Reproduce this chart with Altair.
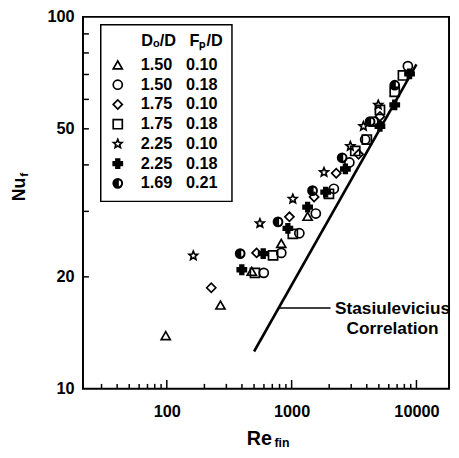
import altair as alt
import pandas as pd

NB = "\u00a0"
FONT = "Liberation Sans"

# ---- legend table ----
do_vals = ["1.50", "1.50", "1.75", "1.75", "2.25", "2.25", "1.69"]
fp_vals = ["0.10", "0.18", "0.10", "0.18", "0.10", "0.18", "0.21"]

# ---- data (Re_fin, Nu_f) ----
tri_re = [98, 269, 479, 826, 1343]
tri_nu = [13.9, 16.8, 20.7, 24.6, 29.1]

circ_re = [598, 826, 1153, 1562, 2179, 2901, 3882, 4514, 8535]
circ_nu = [20.5, 23.2, 26.2, 29.6, 34.5, 40.6, 46.8, 52.3, 73.7]

diam_re = [227, 524, 960, 1514, 2277, 3436, 5100]
diam_nu = [18.7, 23.2, 29.0, 32.8, 38.0, 42.7, 54.0]

sq_re = [508, 710, 1022, 1990, 3235, 4004, 5100, 6699, 7793]
sq_nu = [20.5, 22.85, 26.1, 33.45, 43.6, 46.8, 56.2, 62.9, 69.6]

star_re = [163, 557, 1022, 1817, 2954, 3763, 4944]
star_nu = [22.8, 27.85, 32.4, 38.2, 44.9, 50.8, 58.0]

cross_re = [399, 592, 933, 1343, 1874, 2697, 5100, 6699, 8805]
cross_nu = [20.9, 23.1, 27.0, 30.8, 33.8, 39.0, 50.8, 58.0, 70.3]

half_re = [387, 778, 1471, 2539, 4251, 6699]
half_nu = [23.1, 28.1, 34.1, 41.8, 52.3, 65.5]

# Stasiulevicius correlation line
corr_re = [500, 10000]
corr_nu = [12.6, 74.5]
# leader line and note
lead_re = [790, 2050]
lead_nu = [16.5]
note_text = ["Stasiulevicius", "Correlation"]
note_re = [6430, 6430]
note_nu = [16.4, 14.5]

# axis ticks / labels
x_labels = [100, 1000, 10000]
x_minor = [30, 40, 50, 60, 70, 80, 90, 200, 300, 400, 500, 600, 700, 800, 900,
           2000, 3000, 4000, 5000, 6000, 7000, 8000, 9000]
y_labels = [10, 20, 50, 100]
y_ticks = [20, 30, 40, 50, 60, 70, 80, 90]

STAR = ("M0,-1L0.2645,-0.364L0.9511,-0.309L0.428,0.139L0.5878,0.809L0,0.45"
        "L-0.5878,0.809L-0.428,0.139L-0.9511,-0.309L-0.2645,-0.364Z")
HALF = ("M-1,0A1,1,0,1,1,1,0A1,1,0,1,1,-1,0Z"
        "M0.05,-0.88L0.05,0.88A0.88,0.88,0,0,0,0.05,-0.88Z")
shapes = ["triangle-up", "circle", "diamond", "square", STAR, "cross", HALF]
fills = ["transparent", "transparent", "transparent", "transparent", "transparent", "black", "black"]

labels = [f"{d}{NB * 3}{f}{NB}" for d, f in zip(do_vals, fp_vals)]
series_re = [tri_re, circ_re, diam_re, sq_re, star_re, cross_re, half_re]
series_nu = [tri_nu, circ_nu, diam_nu, sq_nu, star_nu, cross_nu, half_nu]

rows = []
for lab, res, nus in zip(labels, series_re, series_nu):
    for r, n in zip(res, nus):
        rows.append({"series": lab, "re": r, "nu": n})
pts = pd.DataFrame(rows)

W, H = 371, 377

xscale = alt.Scale(type="log", domain=[21.3, 18240], nice=False)
yscale = alt.Scale(type="log", domain=[10, 100], nice=False)
xaxis = alt.Axis(values=x_labels, format="d", title=None, labelPadding=15,
                 ticks=False, domain=False, grid=False, labelFont=FONT,
                 labelFontSize=16.5, labelFontWeight="bold", labelColor="black",
                 labelFlush=False)
yaxis = alt.Axis(values=y_labels, format="d", title=None, labelPadding=9,
                 ticks=False, domain=False, grid=False, labelFont=FONT,
                 labelFontSize=16.5, labelFontWeight="bold", labelColor="black",
                 labelFlush=False)

leg_title = "\u200b" + NB * 7 + "D\u2092/D" + NB * 3 + "F\u209a/D"
leg = alt.Legend(title=leg_title, orient="none", legendX=18, legendY=8,
                 padding=9, strokeColor="black", fillColor="white",
                 titleFont=FONT, titleFontSize=16.5, titleFontWeight="bold",
                 titleColor="black", titlePadding=7, titleAnchor="start",
                 labelFont=FONT, labelFontSize=16.5, labelFontWeight="bold",
                 labelColor="black", labelOffset=15, rowPadding=3,
                 symbolStrokeColor="black", symbolStrokeWidth=1.7, symbolSize=85)

ticks_major = alt.Chart(pd.DataFrame({"v": x_labels})).mark_rule(
    color="black", strokeWidth=1.5).encode(
    x=alt.X("v:Q", scale=xscale, axis=xaxis),
    y=alt.value(H), y2=alt.value(H - 9))
ticks_minor = alt.Chart(pd.DataFrame({"v": x_minor})).mark_rule(
    color="black", strokeWidth=1.5).encode(
    x=alt.X("v:Q", scale=xscale, axis=xaxis),
    y=alt.value(H), y2=alt.value(H - 5))
ticks_y = alt.Chart(pd.DataFrame({"v": y_ticks})).mark_rule(
    color="black", strokeWidth=1.5).encode(
    y=alt.Y("v:Q", scale=yscale, axis=yaxis),
    x=alt.value(0), x2=alt.value(6))

corr = alt.Chart(pd.DataFrame({"re": corr_re, "nu": corr_nu})).mark_line(
    color="black", strokeWidth=2.6).encode(
    x=alt.X("re:Q", scale=xscale, axis=xaxis),
    y=alt.Y("nu:Q", scale=yscale, axis=yaxis))

lead = alt.Chart(pd.DataFrame({"r1": [lead_re[0]], "r2": [lead_re[1]], "nu": lead_nu})).mark_rule(
    color="black", strokeWidth=1.5).encode(
    x=alt.X("r1:Q", scale=xscale, axis=xaxis), x2="r2:Q",
    y=alt.Y("nu:Q", scale=yscale, axis=yaxis))

note = alt.Chart(pd.DataFrame({"t": note_text, "re": note_re, "nu": note_nu})).mark_text(
    font=FONT, fontSize=17.5, fontWeight="bold", color="black", align="center",
    baseline="middle").encode(
    x=alt.X("re:Q", scale=xscale, axis=xaxis),
    y=alt.Y("nu:Q", scale=yscale, axis=yaxis),
    text="t:N")

points = alt.Chart(pts).mark_point(
    filled=True, size=85, stroke="black", strokeWidth=1.7, opacity=1).encode(
    x=alt.X("re:Q", scale=xscale, axis=xaxis),
    y=alt.Y("nu:Q", scale=yscale, axis=yaxis),
    shape=alt.Shape("series:N", scale=alt.Scale(domain=labels, range=shapes), legend=leg),
    color=alt.Color("series:N", scale=alt.Scale(domain=labels, range=fills), legend=leg),
)

# axis titles with subscripts
xt_main = alt.Chart(pd.DataFrame({"t": ["Re"]})).mark_text(
    font=FONT, fontSize=20, fontWeight="bold", color="black", align="left",
    baseline="alphabetic").encode(x=alt.value(166), y=alt.value(434), text="t:N")
xt_sub = alt.Chart(pd.DataFrame({"t": ["fin"]})).mark_text(
    font=FONT, fontSize=12.5, fontWeight="bold", color="black", align="left",
    baseline="alphabetic").encode(x=alt.value(194), y=alt.value(436), text="t:N")
yt_main = alt.Chart(pd.DataFrame({"t": ["Nu"]})).mark_text(
    font=FONT, fontSize=18, fontWeight="bold", color="black", align="center",
    baseline="alphabetic", angle=270).encode(x=alt.value(-59), y=alt.value(175), text="t:N")
yt_sub = alt.Chart(pd.DataFrame({"t": ["f"]})).mark_text(
    font=FONT, fontSize=12, fontWeight="bold", color="black", align="left",
    baseline="alphabetic", angle=270).encode(x=alt.value(-56), y=alt.value(162), text="t:N")

chart = alt.layer(
    ticks_major, ticks_minor, ticks_y, corr, lead, note, points,
    xt_main, xt_sub, yt_main, yt_sub
).properties(
    width=W, height=H,
    padding={"left": 76, "top": 6, "right": 2, "bottom": 59},
    autosize=alt.AutoSizeParams(type="none"),
).configure_view(
    stroke="black", strokeWidth=2
).configure_legend(
    strokeWidth=1.5
)

chart.save("out.html", embed_options={"renderer": "svg", "actions": False})
